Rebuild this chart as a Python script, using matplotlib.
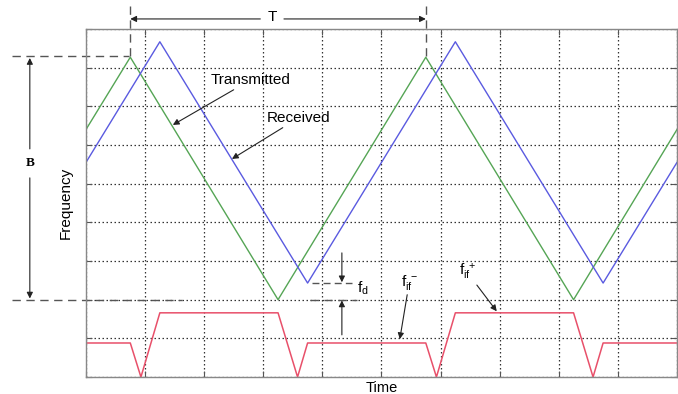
import matplotlib
matplotlib.use("Agg")
import matplotlib.pyplot as plt

# chirp vertices (time, frequency)
tx_time = [0, 0.75, 3.25, 5.75, 8.25, 10]
tx_freq = [6.4, 8.27, 2.0, 8.27, 2.0, 6.4]

rx_time = [0, 1.25, 3.75, 6.25, 8.75, 10]
rx_freq = [5.55, 8.67, 2.43, 8.67, 2.43, 5.55]

# beat frequency
if_time = [0, 0.75, 0.93, 1.25, 3.25, 3.58, 3.75, 5.75, 5.93, 6.25, 8.25, 8.58, 8.75, 10]
if_freq = [0.88, 0.88, 0, 1.66, 1.66, 0, 0.88, 0.88, 0, 1.66, 1.66, 0, 0.88, 0.88]

plt.rcParams['font.family'] = ['Liberation Sans', 'DejaVu Sans']
plt.rcParams['mathtext.fontset'] = 'custom'
plt.rcParams['mathtext.rm'] = 'Liberation Sans'
plt.rcParams['mathtext.it'] = 'Liberation Sans'

fig = plt.figure(figsize=(6.78, 3.94), dpi=100)
ax = fig.add_axes([0.1268, 0.0431, 0.8717, 0.8833])

ax.plot(tx_time, tx_freq, color='#55a555', lw=1.0)
ax.plot(rx_time, rx_freq, color='#5a5ae0', lw=1.0)
ax.plot(if_time, if_freq, color='#e8506a', lw=1.1)

ax.set_xlim(0, 10)
ax.set_ylim(0, 9)
ax.set_xticks(range(11))
ax.set_yticks(range(10))
ax.set_xticklabels([])
ax.set_yticklabels([])
ax.tick_params(direction='in', length=4, width=0.8, color='#555555', top=True, right=True)
ax.grid(True, linestyle=(0, (1.2, 2.0)), color='#333333', lw=0.9)
for s in ax.spines.values():
    s.set_color('#888888')
    s.set_linewidth(1.0)

ax.set_xlabel('Time', fontsize=10.5)
ax.xaxis.set_label_coords(0.5, -0.012)
ax.xaxis.label.set_va('top')
ax.set_ylabel('Frequency', fontsize=11, labelpad=6)

arrow = dict(arrowstyle='-|>', color='#222222', lw=0.8, mutation_scale=9,
             shrinkA=0, shrinkB=0)
dash = dict(color='#555555', lw=1.0, linestyle=(0, (6, 4)), clip_on=False)

# period T
ax.plot([0.75, 0.75], [8.3, 9.62], **dash)
ax.plot([5.75, 5.75], [8.3, 9.62], **dash)
ax.annotate('', xy=(0.75, 9.26), xytext=(2.95, 9.26), arrowprops=arrow, annotation_clip=False)
ax.annotate('', xy=(5.75, 9.26), xytext=(3.35, 9.26), arrowprops=arrow, annotation_clip=False)
ax.text(3.15, 9.3, 'T', fontsize=11, ha='center', va='center')

# bandwidth B
ax.plot([-1.25, 0.72], [8.29, 8.29], **dash)
ax.plot([-1.25, 1.62], [2.0, 2.0], **dash)
ax.plot([3.79, 4.59], [2.0, 2.0], **dash)
ax.annotate('', xy=(-0.95, 8.25), xytext=(-0.95, 5.9), arrowprops=arrow, annotation_clip=False)
ax.annotate('', xy=(-0.95, 2.03), xytext=(-0.95, 5.15), arrowprops=arrow, annotation_clip=False)
ax.text(-0.95, 5.53, 'B', fontsize=9.5, family='Liberation Serif', fontweight='bold',
        ha='center', va='center')

# doppler shift fd
ax.plot([3.82, 4.5], [2.43, 2.43], color='#555555', lw=1.0, linestyle=(0, (5, 3)))
ax.annotate('', xy=(4.33, 2.45), xytext=(4.33, 3.21), arrowprops=arrow)
ax.annotate('', xy=(4.33, 1.98), xytext=(4.33, 1.09), arrowprops=arrow)
ax.text(4.58, 2.3, r'$\mathregular{f_d}$', fontsize=11, ha='left', va='center')

# labels with arrows
ax.annotate('Transmitted', xy=(1.47, 6.52), xytext=(2.11, 7.5), fontsize=11,
            ha='left', va='bottom', arrowprops=arrow)
ax.annotate('Received', xy=(2.47, 5.64), xytext=(3.06, 6.52), fontsize=11,
            ha='left', va='bottom', arrowprops=arrow)
ax.annotate(r'$\mathregular{f_{if}^{\ -}}$', xy=(5.31, 0.98), xytext=(5.47, 2.2),
            fontsize=11, ha='center', va='bottom', arrowprops=arrow)
ax.annotate(r'$\mathregular{f_{if}^{\ +}}$', xy=(6.95, 1.7), xytext=(6.45, 2.45),
            fontsize=11, ha='center', va='bottom', arrowprops=arrow)

fig.savefig('out.png', dpi=100)
